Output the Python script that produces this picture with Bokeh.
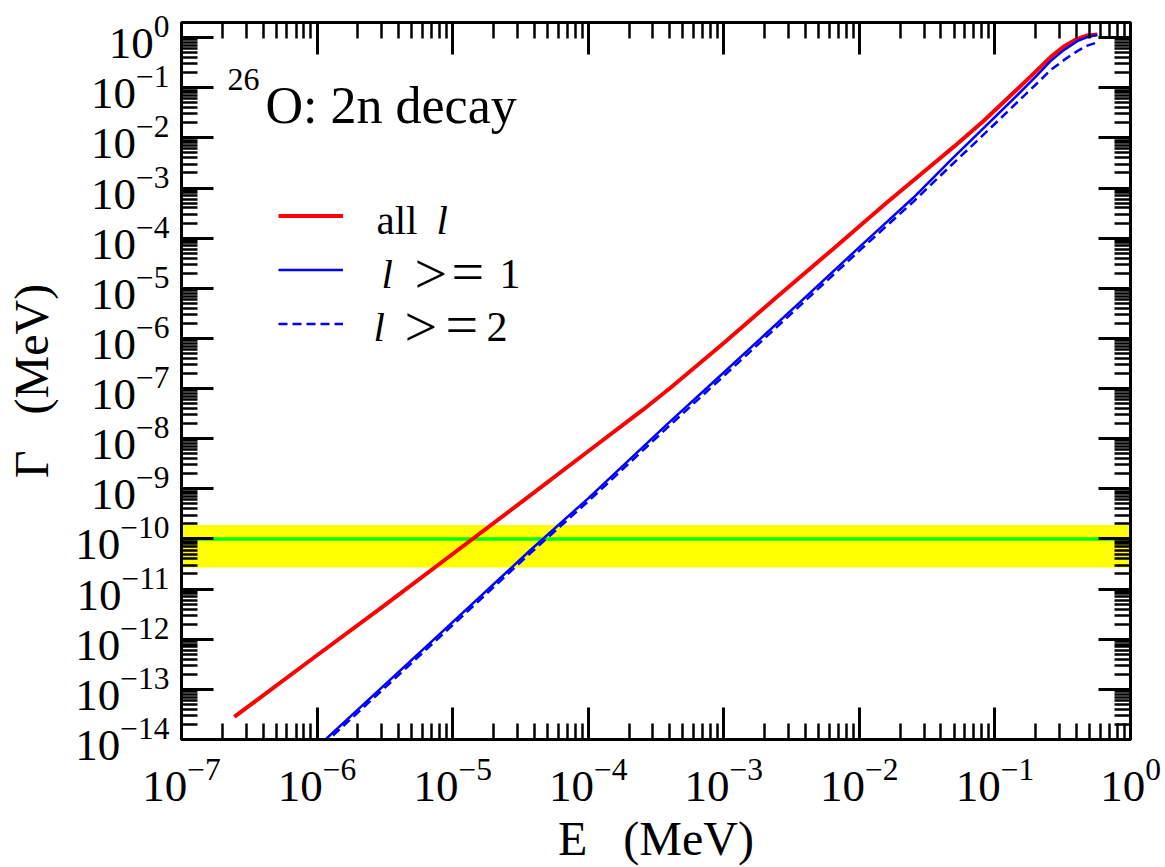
from bokeh.plotting import figure
from bokeh.models import (Range1d, FixedTicker, LogAxis, CustomJSTickFormatter,
                          BoxAnnotation, Span, Label, Legend, LegendItem)
from bokeh.embed import file_html
from bokeh.resources import INLINE

# Two-neutron decay width of 26O versus decay energy
# all partial waves
energy_all = [2.45e-7, 1.0e-6, 3.16e-6, 1.0e-5, 3.16e-5, 1.0e-4, 2.51e-4, 4.07e-4,
              1.0e-3, 2.45e-3, 6.31e-3, 1.58e-2, 3.16e-2, 5.01e-2, 8.28e-2, 0.146,
              0.205, 0.257, 0.322, 0.405, 0.480, 0.569]
gamma_all = [2.82e-14, 4.79e-13, 4.79e-12, 5.01e-11, 5.25e-10, 5.62e-9, 3.70e-8, 1.05e-7,
             8.13e-7, 6.61e-6, 5.89e-5, 5.01e-4, 2.40e-3, 6.76e-3, 2.19e-2, 9.33e-2,
             0.224, 0.407, 0.665, 0.946, 1.10, 1.15]

# only l >= 1
energy_l1 = [1.10e-6, 1.0e-5, 3.65e-5, 1.0e-4, 3.83e-4, 1.0e-3, 3.57e-3, 1.0e-2,
             2.51e-2, 4.70e-2, 8.28e-2, 0.146, 0.205, 0.257, 0.322, 0.405, 0.480, 0.569]
gamma_l1 = [8.9e-15, 2.19e-12, 5.62e-11, 6.46e-10, 1.95e-8, 2.09e-7, 5.01e-6, 6.61e-5,
            6.46e-4, 3.55e-3, 1.58e-2, 7.08e-2, 0.178, 0.339, 0.562, 0.851, 1.02, 1.135]

# only l >= 2
energy_l2 = [1.10e-6, 1.0e-5, 3.65e-5, 1.0e-4, 3.83e-4, 1.0e-3, 3.57e-3, 1.0e-2,
             2.51e-2, 4.70e-2, 8.28e-2, 0.146, 0.205, 0.257, 0.322, 0.405, 0.480, 0.569]
gamma_l2 = [7.76e-15, 1.91e-12, 4.90e-11, 5.62e-10, 1.66e-8, 1.78e-7, 4.27e-6, 5.62e-5,
            5.37e-4, 2.75e-3, 1.17e-2, 5.13e-2, 0.123, 0.224, 0.355, 0.537, 0.692, 0.804]

# measured width: central value and allowed band
gamma_exp = 1.0e-10
gamma_exp_low = 2.7e-11
gamma_exp_high = 1.9e-10

x_tick_powers = list(range(-7, 1))
y_tick_powers = list(range(-14, 1))

SERIF = "Liberation Serif"
W, H = 1165, 867
FL, FR, FT, FB = 181, 1130, 22, 739   # frame edges on the canvas


def at(cx, cy):
    """canvas pixel -> frame screen units (origin bottom-left of frame)"""
    return cx - FL, FB - cy


p = figure(width=W, height=H, x_axis_type="log", y_axis_type="log",
           x_range=Range1d(1e-7, 1.0), y_range=Range1d(1e-14, 2.0),
           min_border_left=FL, min_border_right=W - FR,
           min_border_top=FT, min_border_bottom=H - FB,
           output_backend="svg", toolbar_location=None)
p.grid.visible = False
p.outline_line_color = "black"
p.outline_line_width = 3
p.background_fill_color = "white"
p.border_fill_color = "white"

x_major = [10.0 ** k for k in x_tick_powers]
x_minor = [m * 10.0 ** k for k in x_tick_powers[:-1] for m in range(2, 10)]
y_major = [10.0 ** k for k in y_tick_powers]
y_minor = [m * 10.0 ** k for k in y_tick_powers for m in range(2, 10) if m * 10.0 ** k < 2.0]


def style_ticks(ax, major, minor):
    ax.ticker = FixedTicker(ticks=major, minor_ticks=minor)
    ax.axis_line_width = 3
    ax.axis_line_color = "black"
    ax.major_tick_in = 32
    ax.major_tick_out = 0
    ax.minor_tick_in = 16
    ax.minor_tick_out = 0
    ax.major_tick_line_width = 3
    ax.minor_tick_line_width = 2.5
    ax.major_label_text_font = SERIF
    ax.major_label_text_font_size = "45px"
    ax.major_label_text_color = "black"
    ax.axis_label_text_font = SERIF
    ax.axis_label_text_font_size = "48px"
    ax.axis_label_text_font_style = "normal"
    ax.axis_label_text_color = "black"


xax = p.below[0]
yax = p.left[0]
style_ticks(xax, x_major, x_minor)
style_ticks(yax, y_major, y_minor)
xax.major_label_standoff = 20
yax.major_label_standoff = 12
xax.axis_label = "E\u00a0\u00a0\u00a0(MeV)"
yax.axis_label = "\u0393\u00a0\u00a0\u00a0(MeV)"
xax.axis_label_standoff = 8
yax.axis_label_standoff = 14

# mirrored ticks on the top and right edges
for side, major, minor in (("above", x_major, x_minor), ("right", y_major, y_minor)):
    ax = LogAxis()
    style_ticks(ax, major, minor)
    ax.formatter = CustomJSTickFormatter(code="return ''")
    ax.major_label_text_font_size = "1px"
    ax.major_label_standoff = 0
    p.add_layout(ax, side)

# measured width band and central value
p.add_layout(BoxAnnotation(bottom=gamma_exp_low, top=gamma_exp_high,
                           fill_color="#ffff00", fill_alpha=1.0,
                           line_color=None, level="underlay"))
p.add_layout(Span(location=gamma_exp, dimension="width", line_color="#00ff00",
                  line_width=3.5, level="underlay"))

r_all = p.line(energy_all, gamma_all, line_color="#ff0000", line_width=4)
r_l1 = p.line(energy_l1, gamma_l1, line_color="#0000ff", line_width=2.5)
r_l2 = p.line(energy_l2, gamma_l2, line_color="#0000ff", line_width=2.5,
              line_dash="9 5")

# legend line samples; the label text is set separately to allow italic l
legend = Legend(items=[LegendItem(label=" ", renderers=[r_all]),
                       LegendItem(label=" ", renderers=[r_l1]),
                       LegendItem(label=" ", renderers=[r_l2])],
                location=at(278, 349), glyph_width=65, glyph_height=51,
                spacing=3, padding=0, margin=0, label_standoff=0,
                label_width=1, label_height=1, label_text_font_size="1px",
                border_line_color=None, background_fill_alpha=0)
p.add_layout(legend)


def add_text(text, cx, baseline, size, style="normal", font=SERIF):
    """place text by the canvas position of its left edge and baseline"""
    px = float(size.rstrip("px"))
    x, y = at(cx, baseline - 0.33 * px)
    p.add_layout(Label(x=x, y=y, x_units="screen", y_units="screen", text=text,
                       text_font=font, text_font_size=size, text_font_style=style,
                       text_color="black", text_baseline="middle",
                       text_align="left"))


add_text("26", 227, 90, "32px")
add_text("O: 2n decay", 265, 122, "52px")

add_text("all", 376, 233, "41px")
add_text("l", 436, 233, "41px", "italic")
add_text("l", 381, 287, "41px", "italic")
add_text(">", 414, 292, "58px")
add_text("=", 451, 290, "58px")
add_text("1", 499, 287, "42px")
add_text("l", 373, 340, "41px", "italic")
add_text(">", 404, 345, "58px")
add_text("=", 445, 343, "58px")
add_text("2", 486, 340, "42px")

open("out.html", "w").write(file_html(p, INLINE))
